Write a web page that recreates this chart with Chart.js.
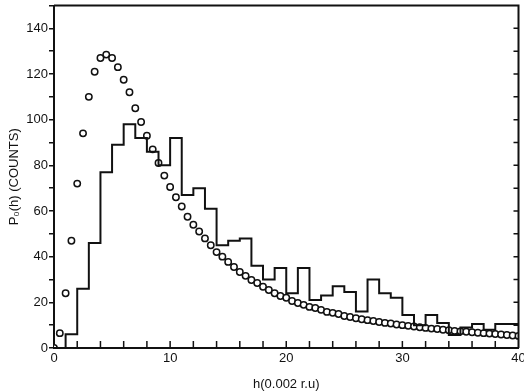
<!DOCTYPE html>
<html lang="en">
<head>
<meta charset="UTF-8">
<title>P0(h) counts</title>
<script src="https://cdn.jsdelivr.net/npm/chart.js"></script>
<style>
  html, body { margin: 0; padding: 0; background: #fff; }
  .wrap { width: 524px; height: 392px; }
</style>
</head>
<body>
<div class="wrap"><canvas id="ph"></canvas></div>
<script>
// measured histogram, one bin per unit of h (left edges)
const binStart = [0, 1, 2, 3, 4, 5, 6, 7, 8, 9,
                  10, 11, 12, 13, 14, 15, 16, 17, 18, 19,
                  20, 21, 22, 23, 24, 25, 26, 27, 28, 29,
                  30, 31, 32, 33, 34, 35, 36, 37, 38, 39];
const counts = [0, 6, 26, 46, 77, 89, 98, 92, 86, 80,
                92, 67, 70, 61, 45, 47, 48, 36, 30, 35,
                24, 35, 21, 23, 27, 24.5, 16, 30, 24, 22,
                14.5, 10, 14.5, 11, 5.7, 9, 10.5, 8, 10.5, 10.5];
const binEnd = 40;

// calculated distribution (open circles), every 0.5 of h
const fitH = [0, 0.5, 1, 1.5, 2, 2.5, 3, 3.5, 4, 4.5,
              5, 5.5, 6, 6.5, 7, 7.5, 8, 8.5, 9, 9.5,
              10, 10.5, 11, 11.5, 12, 12.5, 13, 13.5, 14, 14.5,
              15, 15.5, 16, 16.5, 17, 17.5, 18, 18.5, 19, 19.5,
              20, 20.5, 21, 21.5, 22, 22.5, 23, 23.5, 24, 24.5,
              25, 25.5, 26, 26.5, 27, 27.5, 28, 28.5, 29, 29.5,
              30, 30.5, 31, 31.5, 32, 32.5, 33, 33.5, 34, 34.5,
              35, 35.5, 36, 36.5, 37, 37.5, 38, 38.5, 39, 39.5, 40];
const fitP = [0, 6.5, 24, 47, 72, 94, 110, 121, 127, 128.5,
              127, 123, 117.5, 112, 105, 99, 93, 87, 81, 75.5,
              70.5, 66, 62, 57.5, 54, 51, 48, 45, 42, 40,
              37.7, 35.5, 33.3, 31.6, 29.8, 28.5, 26.8, 25.4, 24, 22.8,
              22, 20.6, 19.7, 18.9, 18, 17.5, 16.7, 15.8, 15.4, 14.9,
              14, 13.6, 13, 12.6, 12.2, 11.8, 11.4, 11, 10.7, 10.3,
              10, 9.7, 9.4, 9.1, 8.8, 8.5, 8.3, 8, 7.8, 7.5,
              7.3, 7.1, 6.9, 6.7, 6.5, 6.3, 6.1, 5.9, 5.7, 5.5, 5.3];

const xLabels = [0, 10, 20, 30, 40];
const yLabels = [0, 20, 40, 60, 80, 100, 120, 140];

const histPts = binStart.map((h, i) => ({ x: h, y: counts[i] }));
histPts.push({ x: binEnd, y: counts[counts.length - 1] });
const fitPts = fitH.map((h, i) => ({ x: h, y: fitP[i] }));

const FONT = { family: '"Liberation Sans", Arial, sans-serif', size: 13 };

// frame on top/right plus the inward ticks of the original plot
const frameTicks = {
  id: 'frameTicks',
  afterDraw(chart) {
    const { ctx, chartArea: a, scales } = chart;
    ctx.save();
    ctx.strokeStyle = '#111';
    ctx.lineWidth = 2;
    ctx.beginPath();
    ctx.moveTo(a.left, a.top);
    ctx.lineTo(a.right, a.top);
    ctx.lineTo(a.right, a.bottom);
    ctx.stroke();
    ctx.lineWidth = 1.5;
    ctx.beginPath();
    for (let v = 2; v < 40; v += 2) {
      const px = scales.x.getPixelForValue(v);
      ctx.moveTo(px, a.bottom);
      ctx.lineTo(px, a.bottom - 7);
    }
    for (let v = 10; v < 150; v += 10) {
      const py = scales.y.getPixelForValue(v);
      ctx.moveTo(a.right, py);
      ctx.lineTo(a.right - 5, py);
    }
    ctx.stroke();
    ctx.restore();
  }
};

new Chart(document.getElementById('ph'), {
  type: 'scatter',
  data: {
    datasets: [
      {
        label: 'measured',
        data: histPts,
        showLine: true,
        stepped: 'before',
        borderColor: '#111',
        borderWidth: 2,
        pointRadius: 0,
        fill: false
      },
      {
        label: 'calculated',
        data: fitPts,
        showLine: false,
        pointStyle: 'circle',
        pointRadius: 3.2,
        pointBorderWidth: 1.5,
        pointBorderColor: '#111',
        pointBackgroundColor: '#fff'
      }
    ]
  },
  options: {
    responsive: true,
    maintainAspectRatio: false,
    animation: false,
    layout: { padding: { top: 5, right: -4, left: 0, bottom: 0 } },
    plugins: { legend: { display: false }, tooltip: { enabled: false } },
    scales: {
      x: {
        type: 'linear',
        min: 0, max: 40,
        ticks: {
          stepSize: 10,
          autoSkip: false,
          maxRotation: 0,
          color: '#111',
          font: FONT,
          padding: 3,
          callback: v => xLabels.includes(v) ? String(v) : ''
        },
        grid: { display: false, drawOnChartArea: false, drawTicks: false },
        border: { display: true, color: '#111', width: 2 },
        title: { display: true, text: 'h(0.002 r.u)', color: '#111', font: FONT, padding: { top: 4, bottom: 0 } },
        afterFit: s => { s.height = 44; s.paddingLeft = 0; s.paddingRight = 0; }
      },
      y: {
        min: 0, max: 150,
        ticks: {
          stepSize: 10,
          autoSkip: false,
          color: '#111',
          font: FONT,
          padding: 1,
          callback: v => yLabels.includes(v) ? String(v) : ''
        },
        grid: { drawOnChartArea: false, drawTicks: true, tickLength: 5, color: '#111', lineWidth: 1.5 },
        border: { display: true, color: '#111', width: 2 },
        title: { display: true, text: 'P₀(h) (COUNTS)', color: '#111', font: FONT, padding: { top: 7, bottom: 4 } },
        afterFit: s => { s.width = 54; s.paddingTop = 0; s.paddingBottom = 0; }
      }
    }
  },
  plugins: [frameTicks]
});
</script>
</body>
</html>
